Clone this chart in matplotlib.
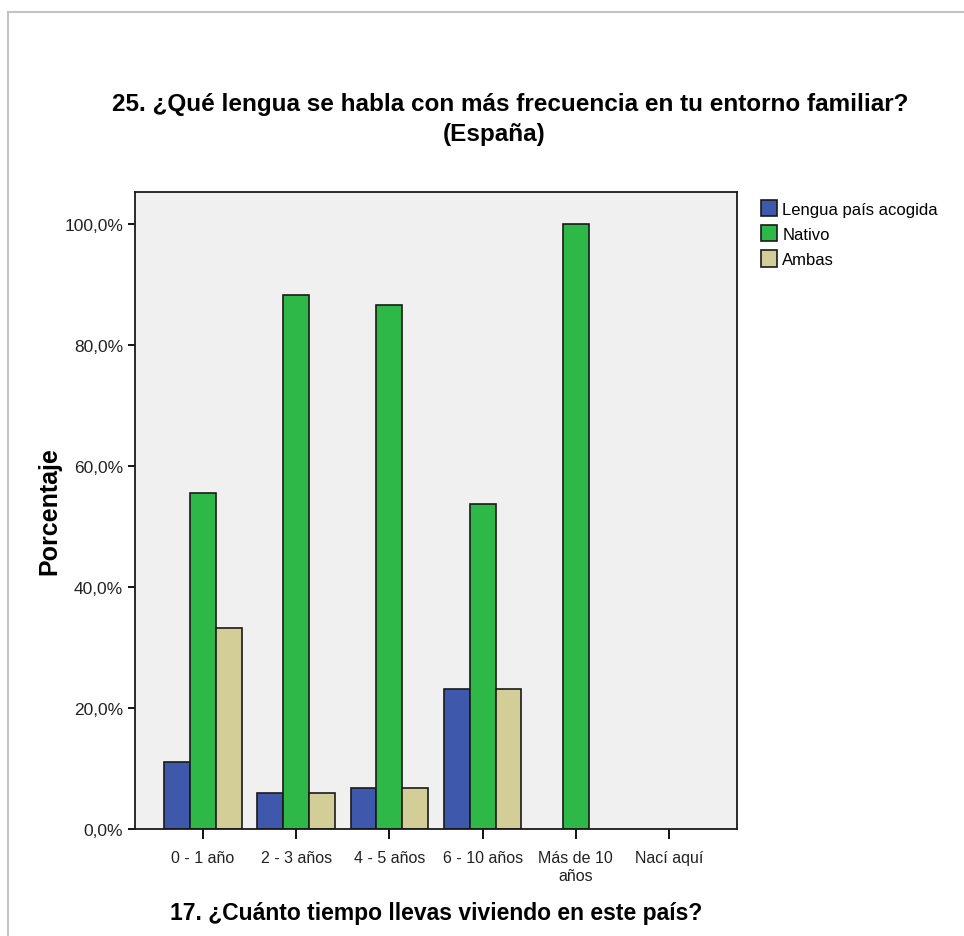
import numpy as np
import matplotlib
matplotlib.use('Agg')
import matplotlib.pyplot as plt
from matplotlib.lines import Line2D
from matplotlib.ticker import FuncFormatter

plt.rcParams['font.family'] = ['Liberation Sans Narrow', 'Liberation Sans', 'DejaVu Sans']

# datos
categorias = ['0 - 1 año', '2 - 3 años', '4 - 5 años', '6 - 10 años', 'Más de 10\naños', 'Nací aquí']
series = ['Lengua país acogida', 'Nativo', 'Ambas']
lengua_acogida = [11.1, 5.9, 6.7, 23.1, 0.0, 0.0]
nativo = [55.6, 88.2, 86.7, 53.8, 100.0, 0.0]
ambas = [33.3, 5.9, 6.7, 23.1, 0.0, 0.0]
colores = ['#3e58ac', '#2eb848', '#d3ce97']

fig = plt.figure(figsize=(9.64, 9.37), dpi=100)
ax = fig.add_axes([135/964, 107/937, 602/964, 637/937])
ax.set_facecolor('#f0f0f0')

x = np.arange(len(categorias))
w = 0.277
for i, (vals, col, lab) in enumerate(zip([lengua_acogida, nativo, ambas], colores, series)):
    v = np.array(vals, dtype=float)
    v[v == 0] = np.nan  # SPSS no dibuja barras vacias
    ax.bar(x + (i - 1) * w, v, w, color=col, edgecolor='#1a1a1a', linewidth=1.2, label=lab)

ax.set_xlim(-0.73, len(categorias) - 1 + 0.73)
ax.set_ylim(0, 105.3)
ax.set_yticks([0, 20, 40, 60, 80, 100])
ax.yaxis.set_major_formatter(FuncFormatter(lambda v, p: f'{v:.1f}%'.replace('.', ',')))
ax.set_xticks(x)
ax.set_xticklabels(categorias, fontsize=11.5, color='#222222', linespacing=1.25)
ax.tick_params(axis='y', labelsize=12.5, labelcolor='#222222', length=5, width=1.3, direction='out')
ax.tick_params(axis='x', length=7, width=1.3, direction='out', pad=8)
for s in ax.spines.values():
    s.set_linewidth(1.3)
    s.set_color('#1a1a1a')

ax.set_ylabel('Porcentaje', fontsize=18, fontweight='bold', labelpad=2)
ax.set_xlabel('17. ¿Cuánto tiempo llevas viviendo en este país?', fontsize=16.5,
              fontweight='bold', labelpad=13)

fig.text(510/964, 1 - 104/937, '25. ¿Qué lengua se habla con más frecuencia en tu entorno familiar?',
         ha='center', va='center', fontsize=17.5, fontweight='bold')
fig.text(494/964, 1 - 134/937, '(España)', ha='center', va='center', fontsize=17.5, fontweight='bold')

fig.legend(loc='upper left', bbox_to_anchor=(754/964, 1 - 194/937), frameon=False,
           fontsize=12, handlelength=1.0, handleheight=1.15, handletextpad=0.3,
           labelspacing=0.5, borderaxespad=0)

# marco gris del visor
fig.add_artist(Line2D([8/964, 1], [1 - 13/937, 1 - 13/937], color='#c4c4c4', lw=1.5))
fig.add_artist(Line2D([8/964, 8/964], [0, 1 - 13/937], color='#c4c4c4', lw=1.5))

fig.savefig('out.png', dpi=100)
